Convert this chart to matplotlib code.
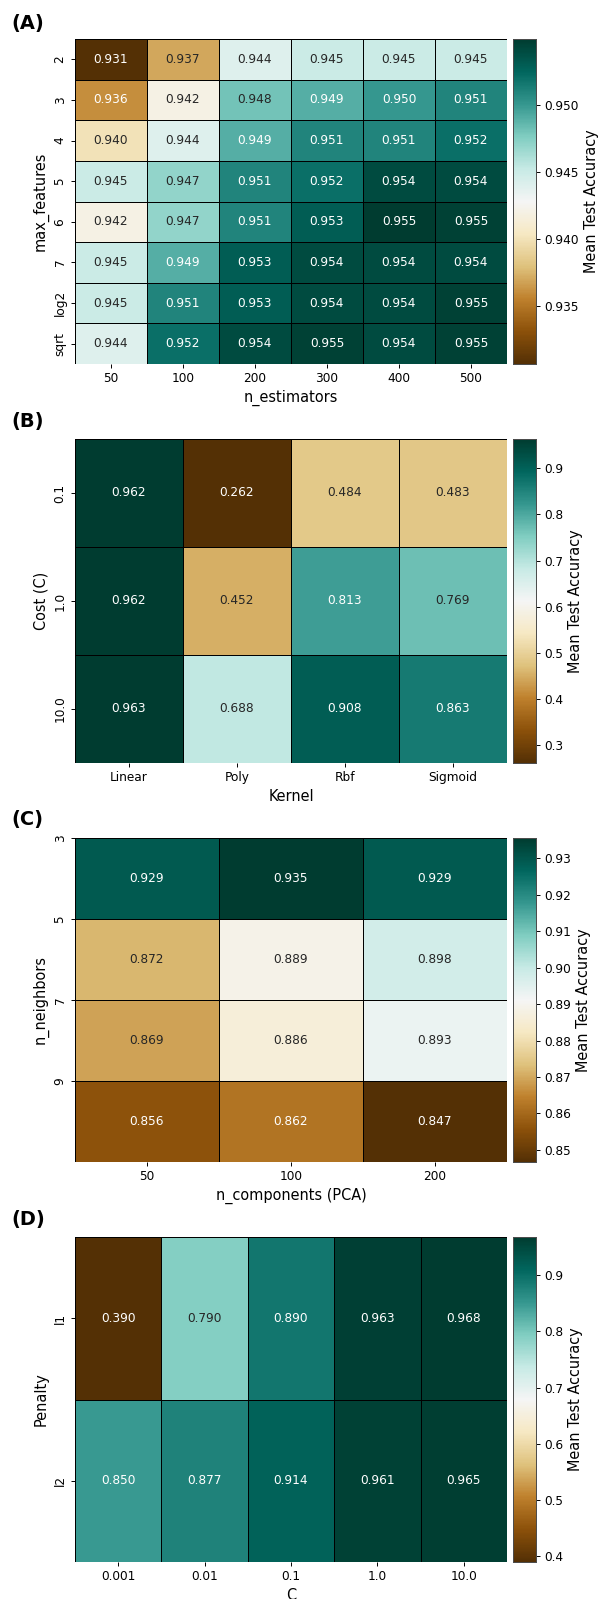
import numpy as np
import matplotlib
matplotlib.use("Agg")
import matplotlib.pyplot as plt
import seaborn as sns

# (A) random forest grid
rf_features = ['2', '3', '4', '5', '6', '7', 'log2', 'sqrt']
rf_estimators = ['50', '100', '200', '300', '400', '500']
rf_acc = np.array([
    [0.9307, 0.937, 0.944, 0.945, 0.945, 0.945],
    [0.936, 0.942, 0.948, 0.949, 0.950, 0.951],
    [0.940, 0.944, 0.949, 0.951, 0.951, 0.952],
    [0.945, 0.947, 0.951, 0.952, 0.954, 0.954],
    [0.942, 0.947, 0.951, 0.953, 0.9549, 0.9546],
    [0.945, 0.949, 0.953, 0.954, 0.954, 0.954],
    [0.945, 0.951, 0.953, 0.954, 0.954, 0.9546],
    [0.944, 0.952, 0.954, 0.9546, 0.954, 0.9546],
])

# (B) SVM grid
svm_cost = ['0.1', '1.0', '10.0']
svm_kernel = ['Linear', 'Poly', 'Rbf', 'Sigmoid']
svm_acc = np.array([
    [0.962, 0.262, 0.484, 0.483],
    [0.962, 0.452, 0.813, 0.769],
    [0.963, 0.688, 0.908, 0.863],
])

# (C) KNN + PCA grid
knn_neighbors = ['3', '5', '7', '9']
knn_components = ['50', '100', '200']
knn_acc = np.array([
    [0.929, 0.9355, 0.929],
    [0.872, 0.889, 0.898],
    [0.869, 0.886, 0.893],
    [0.856, 0.862, 0.8467],
])

# (D) logistic regression grid
lr_penalty = ['l1', 'l2']
lr_c = ['0.001', '0.01', '0.1', '1.0', '10.0']
lr_acc = np.array([
    [0.390, 0.790, 0.890, 0.963, 0.968],
    [0.850, 0.877, 0.914, 0.961, 0.965],
])

DPI = 87
W = 599.0
H = 1599.0
fig = plt.figure(figsize=(W / DPI, H / DPI), dpi=DPI)


def make_axes(top, bottom):
    ax = fig.add_axes([75 / W, (H - bottom) / H, (507 - 75) / W, (bottom - top) / H])
    cax = fig.add_axes([513 / W, (H - bottom) / H, 23 / W, (bottom - top) / H])
    return ax, cax


def draw_heatmap(ax, cax, data, xlabels, ylabels, xlabel, ylabel):
    sns.heatmap(data, ax=ax, cbar_ax=cax, cmap='BrBG', annot=True, fmt='.3f',
                annot_kws={'size': 10}, linewidths=0.5, linecolor='black',
                xticklabels=xlabels, yticklabels=ylabels,
                cbar_kws={'label': 'Mean Test Accuracy'})
    ax.set_xlabel(xlabel, fontsize=12)
    ax.set_ylabel(ylabel, fontsize=12)
    ax.tick_params(labelsize=10)
    plt.setp(ax.get_yticklabels(), rotation=90, va='center')
    plt.setp(ax.get_xticklabels(), rotation=0)
    cax.tick_params(labelsize=10)
    cax.yaxis.label.set_size(12)
    for s in cax.spines.values():
        s.set_visible(True)
        s.set_linewidth(0.8)
        s.set_color('0.3')


ax, cax = make_axes(39, 364)
draw_heatmap(ax, cax, rf_acc, rf_estimators, rf_features, 'n_estimators', 'max_features')

ax, cax = make_axes(439, 763)
draw_heatmap(ax, cax, svm_acc, svm_kernel, svm_cost, 'Kernel', 'Cost (C)')

ax, cax = make_axes(838, 1162)
draw_heatmap(ax, cax, knn_acc, knn_components, knn_neighbors, 'n_components (PCA)', 'n_neighbors')
# neighbour ticks sit on the cell edges in the original
ax.set_yticks(np.arange(len(knn_neighbors)))
ax.set_yticklabels(knn_neighbors, rotation=90, va='center', fontsize=10)
for t in ax.texts:
    if t.get_text() == '0.869':
        t.set_color('.15')

ax, cax = make_axes(1237, 1562)
draw_heatmap(ax, cax, lr_acc, lr_c, lr_penalty, 'C', 'Penalty')

for lab, y in zip(['(A)', '(B)', '(C)', '(D)'], [23, 422, 820, 1219]):
    fig.text(11 / W, (H - y) / H, lab, fontsize=16, fontweight='bold', va='center', ha='left')

fig.savefig('out.png', dpi=DPI)
